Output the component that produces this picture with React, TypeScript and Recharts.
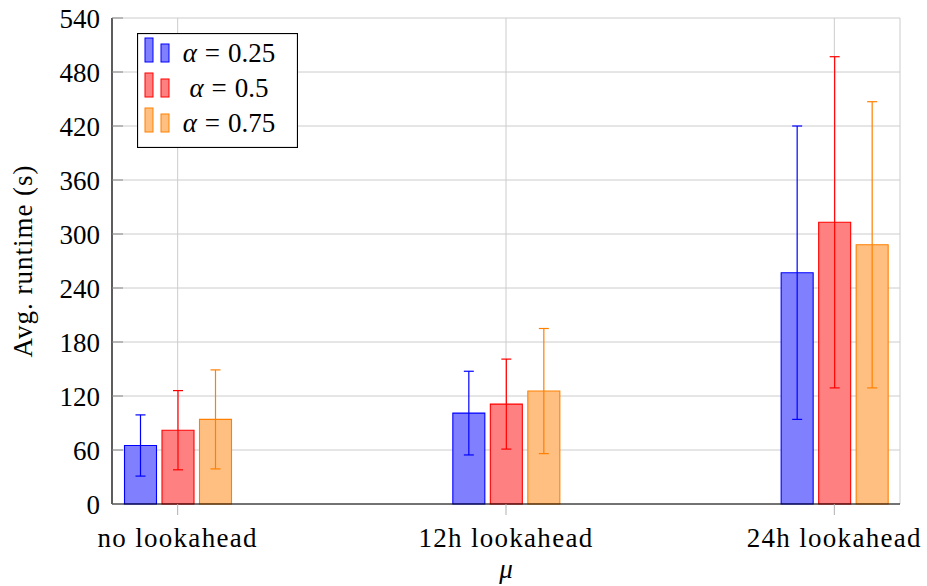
import { BarChart, Bar, XAxis, YAxis, CartesianGrid, ErrorBar, Legend } from "recharts"

const categories = ["no lookahead", "12h lookahead", "24h lookahead"]
const alphaLabels = ["0.25", "0.5", "0.75"]

// mean runtime (s) and error (+/-) per alpha
const runtimeA025 = [65, 101, 257]
const errorA025 = [34, 46.5, 163]
const runtimeA05 = [82, 111, 313]
const errorA05 = [44, 50, 184]
const runtimeA075 = [94, 125.5, 288]
const errorA075 = [55, 69.5, 159]

const yTicks = [0, 60, 120, 180, 240, 300, 360, 420, 480, 540]
const xTicks = [0, 1, 2]

const fills = ["#8080ff", "#ff8080", "#ffbf80"]
const strokes = ["#0000ff", "#ff0000", "#ff8000"]

const data = categories.map((name, i) => ({
  x: i,
  name,
  a025: runtimeA025[i],
  e025: errorA025[i],
  a05: runtimeA05[i],
  e05: errorA05[i],
  a075: runtimeA075[i],
  e075: errorA075[i],
}))

const keys = [
  ["a025", "e025"],
  ["a05", "e05"],
  ["a075", "e075"],
]

const font = "Liberation Serif, DejaVu Serif, serif"

function LegendBox() {
  return (
    <svg width={161} height={115} style={{ display: "block" }}>
      <rect x={0.5} y={0.5} width={160} height={114} fill="#fff" stroke="#000" strokeWidth={1.2} />
      {alphaLabels.map((a, i) => {
        const base = 29 + i * 35
        return (
          <g key={a}>
            <rect x={8} y={base - 24} width={8} height={24} fill={fills[i]} stroke={strokes[i]} />
            <rect x={24} y={base - 18} width={8} height={18} fill={fills[i]} stroke={strokes[i]} />
            <text x={92} y={base} textAnchor="middle" fontFamily={font} fontSize={27} fill="#000">
              <tspan fontStyle="italic">α</tspan>
              <tspan dx={8}>=</tspan>
              <tspan dx={8}>{a}</tspan>
            </text>
          </g>
        )
      })}
    </svg>
  )
}

export default function App() {
  return (
    <div
      style={{
        position: "absolute",
        left: 0,
        top: 0,
        width: 927,
        height: 586,
        background: "#fff",
        fontFamily: font,
      }}
    >
      <BarChart
        width={927}
        height={586}
        data={data}
        margin={{ top: 18, right: 27, left: 0, bottom: 0 }}
        barSize={32}
        barGap={5.5}
        style={{ fontFamily: font }}
      >
        <CartesianGrid stroke="#cccccc" strokeWidth={1} />
        <XAxis
          dataKey="x"
          type="number"
          domain={[-0.2, 2.2]}
          ticks={xTicks}
          allowDataOverflow
          height={82}
          tickFormatter={(v) => categories[v]}
          tick={{ fontFamily: font, fontSize: 27, fill: "#000", letterSpacing: 1.3 }}
          tickSize={11}
          tickMargin={13}
          tickLine={{ stroke: "#b0b0b0" }}
          axisLine={{ stroke: "#000", strokeWidth: 1.2 }}
          label={({ viewBox }: any) => (
            <text
              x={viewBox.x + viewBox.width / 2}
              y={viewBox.y + 74}
              textAnchor="middle"
              fontFamily={font}
              fontSize={27}
              fontStyle="italic"
              fill="#000"
            >
              μ
            </text>
          )}
        />
        <XAxis
          xAxisId="top"
          orientation="top"
          dataKey="x"
          type="number"
          domain={[-0.2, 2.2]}
          ticks={xTicks}
          allowDataOverflow
          height={0}
          tick={false}
          tickSize={11}
          tickLine={{ stroke: "#b0b0b0" }}
          axisLine={{ stroke: "#000", strokeWidth: 1.2 }}
        />
        <YAxis
          domain={[0, 540]}
          ticks={yTicks}
          width={112}
          tick={{ fontFamily: font, fontSize: 27, fill: "#000" }}
          tickSize={-11}
          tickMargin={23}
          tickLine={{ stroke: "#8a8a8a" }}
          axisLine={{ stroke: "#000", strokeWidth: 1.2 }}
          label={({ viewBox }: any) => {
            const cy = viewBox.y + viewBox.height / 2
            return (
              <text
                x={32}
                y={cy}
                transform={`rotate(-90 32 ${cy})`}
                textAnchor="middle"
                fontFamily={font}
                fontSize={27}
                letterSpacing={1}
                fill="#000"
              >
                Avg. runtime (s)
              </text>
            )
          }}
        />
        <YAxis
          yAxisId="right"
          orientation="right"
          domain={[0, 540]}
          ticks={yTicks}
          width={0}
          tick={false}
          tickSize={-11}
          tickLine={{ stroke: "#8a8a8a" }}
          axisLine={{ stroke: "#000", strokeWidth: 1.2 }}
        />
        <Legend
          layout="vertical"
          align="center"
          verticalAlign="middle"
          wrapperStyle={{ left: 137, top: 33, width: 161, height: 115 }}
          content={() => <LegendBox />}
        />
        {keys.map(([k, e], i) => (
          <Bar
            key={k}
            dataKey={k}
            fill={fills[i]}
            stroke={strokes[i]}
            strokeWidth={1.1}
            isAnimationActive={false}
          >
            <ErrorBar dataKey={e} width={5} stroke={strokes[i]} strokeWidth={1.2} isAnimationActive={false} />
          </Bar>
        ))}
      </BarChart>
    </div>
  )
}
